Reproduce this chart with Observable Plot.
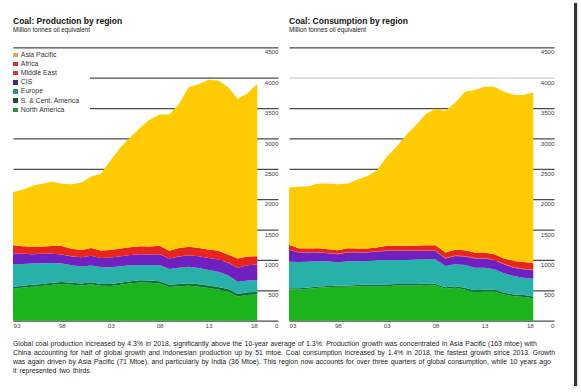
<!DOCTYPE html>
<html><head><meta charset="utf-8">
<script src="https://cdn.jsdelivr.net/npm/d3@7"></script>
<script src="https://cdn.jsdelivr.net/npm/@observablehq/plot@0.6"></script>
<style>
body{margin:0;background:#fff;font-family:"Liberation Sans",Arial,sans-serif;}
#frame{position:relative;width:574px;height:386px;background:#fff;box-shadow:3px 3px 1px #333;overflow:hidden}
.title{position:absolute;font-weight:bold;font-size:8.5px;line-height:9px;color:#111;white-space:nowrap}
.sub{position:absolute;font-size:6.3px;line-height:6px;color:#222;white-space:nowrap}
.chart{position:absolute;top:40px}
.legend{position:absolute;left:13px;top:49px;width:77px;height:65px;background:#fff}
.li{position:absolute;left:0;font-size:6.9px;line-height:7px;color:#333;white-space:nowrap}
.sw{display:inline-block;width:4.5px;height:4.5px;margin-right:3.3px;vertical-align:-0.3px}
.note{position:absolute;left:13px;font-size:6.9px;line-height:9px;color:#222;white-space:nowrap}
</style></head>
<body>
<div id="frame"></div>
<script>
const years = d3.range(1993, 2019);
const regions = ["North America", "S. & Cent. America", "Europe", "CIS", "Middle East", "Africa", "Asia Pacific"];
const legendOrder = ["Asia Pacific", "Africa", "Middle East", "CIS", "Europe", "S. & Cent. America", "North America"];
const yTicks = [0, 500, 1000, 1500, 2000, 2500, 3000, 3500, 4000, 4500];
const xTicks = [1993, 1998, 2003, 2008, 2013, 2018];
const xTickLabels = ["93", "98", "03", "08", "13", "18"];

// Production (Mtoe), 1993..2018
const prodNorthAmerica = [525,545,560,575,592,605,592,580,600,575,573,590,615,628,625,612,553,565,576,560,538,515,480,398,425,432];
const prodSCAmerica    = [28,30,30,31,31,32,32,32,33,31,32,33,35,36,37,38,37,39,39,40,40,40,40,40,42,43];
const prodEurope       = [377,360,350,339,325,303,288,281,277,276,273,272,262,253,253,268,262,268,274,268,257,250,230,202,195,190];
const prodCIS          = [180,165,155,155,152,150,146,151,158,150,162,165,170,175,175,177,170,186,189,192,195,203,205,232,250,260];
const prodMiddleEast   = [1,1,1,1,1,1,1,1,1,1,1,1,1,1,1,1,1,1,1,1,1,1,1,1,1,1];
const prodAfrica       = [129,124,119,121,129,139,126,120,129,122,124,129,127,132,131,136,129,136,137,135,139,141,132,149,145,136];
const prodAsiaPacific  = [880,930,1005,1033,1055,1025,1060,1110,1177,1265,1475,1665,1810,1950,2088,2163,2243,2375,2629,2694,2795,2805,2757,2633,2687,2838];

// Consumption (Mtoe), 1993..2018
const consNorthAmerica = [514,514,525,541,552,558,558,569,569,569,569,580,580,580,586,580,525,541,514,470,481,481,431,403,392,370];
const consSCAmerica    = [20,20,20,20,20,20,20,20,25,25,25,25,25,25,25,25,25,25,30,30,30,30,30,30,30,30];
const consEurope       = [438,433,427,417,406,378,400,389,389,406,406,395,395,401,400,406,351,362,373,373,362,334,318,302,285,291];
const consCIS          = [194,155,150,144,132,138,144,144,139,138,149,149,149,143,138,138,121,138,138,149,149,149,149,138,138,138];
const consMiddleEast   = [5,5,5,5,5,6,6,6,6,7,7,7,8,8,8,8,8,9,9,9,9,9,9,9,9,9];
const consAfrica       = [78,66,61,66,62,60,65,60,60,59,76,76,75,75,86,86,92,91,96,91,91,91,85,101,113,107];
const consAsiaPacific  = [943,1010,1026,1065,1081,1087,1065,1136,1191,1274,1466,1631,1823,1988,2158,2246,2334,2422,2609,2675,2730,2758,2747,2731,2747,2813];

const areaColors = ["#1cb41c", "#0e6e38", "#27b1a9", "#7020c0", "#ea4a1c", "#e8241e", "#ffcb05"];
const swatchColors = {"Asia Pacific":"#d9ae45","Africa":"#d2362c","Middle East":"#d93a2a","CIS":"#4a2484","Europe":"#2e8f80","S. & Cent. America":"#1f4a34","North America":"#2e8e3a"};

function toRows(series) {
  const rows = [];
  regions.forEach((r, i) => years.forEach((y, j) => rows.push({year: y, region: r, value: series[i][j]})));
  return rows;
}
const prodRows = toRows([prodNorthAmerica, prodSCAmerica, prodEurope, prodCIS, prodMiddleEast, prodAfrica, prodAsiaPacific]);
const consRows = toRows([consNorthAmerica, consSCAmerica, consEurope, consCIS, consMiddleEast, consAfrica, consAsiaPacific]);

// the axis column extends about two years beyond the last data year
const xEnd = 2020.12;
function makeChart(rows, lightTicks) {
  const mid = xTicks.slice(1, -1), midL = xTickLabels.slice(1, -1);
  const dark = yTicks.filter(t => !lightTicks.includes(t));
  const light = yTicks.filter(t => lightTicks.includes(t));
  return Plot.plot({
    width: 280, height: 296,
    marginLeft: 13, marginRight: 2, marginTop: 7.3, marginBottom: 15.3,
    x: {domain: [1993, xEnd], axis: null},
    y: {domain: [0, 4500], axis: null},
    color: {domain: regions, range: areaColors},
    style: {fontFamily: "'Liberation Sans', Arial, sans-serif", overflow: "visible", background: "transparent"},
    marks: [
      Plot.link(dark, {x1: () => 1993, x2: () => xEnd, y1: d => d, y2: d => d, stroke: "#4a4a4a", strokeWidth: 1.3, strokeOpacity: 1}),
      Plot.link(light, {x1: () => 1993, x2: () => xEnd, y1: d => d, y2: d => d, stroke: "#cfcfcf", strokeWidth: 1.3, strokeOpacity: 1}),
      Plot.areaY(rows, {x: "year", y: "value", fill: "region", z: "region", order: regions}),
      Plot.text(yTicks, {frameAnchor: "right", y: d => d, text: d => String(d), textAnchor: "end", dy: 4.6, fontSize: 6.2, fill: "#444"}),
      Plot.text([xTicks[0]], {x: d => d, y: () => 0, text: [xTickLabels[0]], textAnchor: "start", dy: 5.3, fontSize: 6.2, fill: "#444"}),
      Plot.text(mid, {x: d => d, y: () => 0, text: midL, textAnchor: "middle", dy: 5.3, fontSize: 6.2, fill: "#444"}),
      Plot.text([xTicks[xTicks.length - 1]], {x: d => d, y: () => 0, text: [xTickLabels[xTickLabels.length - 1]], textAnchor: "end", dy: 5.3, fontSize: 6.2, fill: "#444"})
    ]
  });
}

const frame = document.getElementById("frame");
function addDiv(cls, text, left, top) {
  const d = document.createElement("div");
  d.className = cls; d.textContent = text;
  d.style.left = left + "px"; d.style.top = top + "px";
  frame.appendChild(d); return d;
}

const c1 = makeChart(prodRows, []);
c1.classList.add("chart"); c1.style.left = "0px"; frame.appendChild(c1);
const c2 = makeChart(consRows, [4000]);
c2.classList.add("chart"); c2.style.left = "276px"; frame.appendChild(c2);

addDiv("title", "Coal: Production by region", 13, 16.5);
addDiv("sub", "Million tonnes oil equivalent", 13, 27);
addDiv("title", "Coal: Consumption by region", 289, 16.5);
addDiv("sub", "Million tonnes oil equivalent", 289, 27);

const leg = document.createElement("div");
leg.className = "legend"; frame.appendChild(leg);
legendOrder.forEach((r, i) => {
  const li = document.createElement("div");
  li.className = "li"; li.style.top = (54.3 - 49 - 3.5 + i * 9.17) + "px";
  const sw = document.createElement("span"); sw.className = "sw"; sw.style.background = swatchColors[r];
  li.appendChild(sw); li.appendChild(document.createTextNode(r));
  leg.appendChild(li);
});

const noteLines = [
  "Global coal production increased by 4.3% in 2018, significantly above the 10-year average of 1.3%. Production growth was concentrated in Asia Pacific (163 mtoe) with",
  "China accounting for half of global growth and Indonesian production up by 51 mtoe. Coal consumption increased by 1.4% in 2018, the fastest growth since 2013. Growth",
  "was again driven by Asia Pacific (71 Mtoe), and particularly by India (36 Mtoe). This region now accounts for over three quarters of global consumption, while 10 years ago",
  "it represented two thirds."
];
const noteWidths = [523.7, 542, 537.7, 78.7];
const noteTops = [343.3, 352.3, 361, 370];
noteLines.forEach((t, i) => {
  const d = addDiv("note", t, 13, noteTops[i] - 4.5);
  const w = d.getBoundingClientRect().width;
  const spaces = (t.match(/ /g) || []).length;
  d.style.wordSpacing = ((noteWidths[i] - w) / spaces).toFixed(2) + "px";
});
</script>
</body></html>
